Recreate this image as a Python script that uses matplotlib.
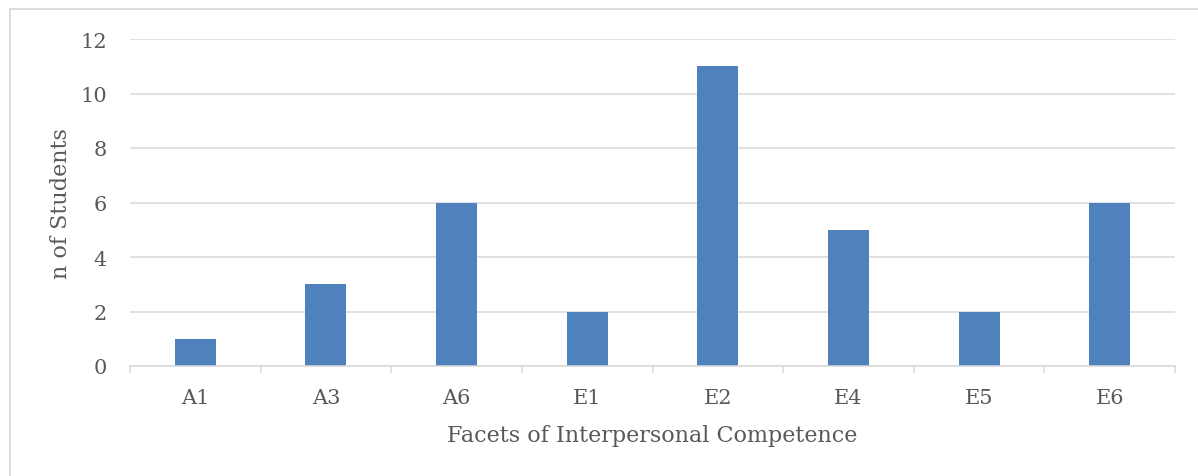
import matplotlib.pyplot as plt
import numpy as np
from matplotlib.lines import Line2D

facets = ["A1", "A3", "A6", "E1", "E2", "E4", "E5", "E6"]
n_students = [1, 3, 6, 2, 11, 5, 2, 6]
y_ticks = [0, 2, 4, 6, 8, 10, 12]

text_color = "#595959"
grid_color = "#d9d9d9"
bar_color = "#4f81bd"

plt.rcParams["font.family"] = ["DejaVu Serif"]

W, H = 1198, 477
fig = plt.figure(figsize=(W / 100, H / 100), dpi=100)
ax = fig.add_axes([130 / W, 1 - 367 / H, (1175 - 130) / W, (367 - 40) / H])

x = np.arange(len(facets))
ax.bar(x, n_students, width=0.313, color=bar_color, zorder=3)

ax.set_xlim(-0.5, len(facets) - 0.5)
ax.set_ylim(0, 12)
ax.set_yticks(y_ticks)
ax.set_xticks(x)
ax.set_xticklabels(facets)
ax.set_xticks(np.arange(len(facets) + 1) - 0.5, minor=True)

ax.tick_params(axis="y", length=0, pad=16.5, labelsize=15, labelcolor=text_color)
ax.tick_params(axis="x", which="major", length=0, pad=16, labelsize=15, labelcolor=text_color)
ax.tick_params(axis="x", which="minor", length=5, width=1.1, color=grid_color)

ax.grid(axis="y", color=grid_color, linewidth=1.1, zorder=0)
for s in ["top", "right", "left"]:
    ax.spines[s].set_visible(False)
ax.spines["bottom"].set_color(grid_color)
ax.spines["bottom"].set_linewidth(1.1)
ax.spines["bottom"].set_zorder(4)

ax.set_ylabel("n of Students", fontsize=16, color=text_color, labelpad=6)
ax.set_xlabel("Facets of Interpersonal Competence", fontsize=16, color=text_color, labelpad=12)

# chart frame (cropped on right and bottom)
fig.add_artist(Line2D([9.5 / W, 9.5 / W], [0, 1 - 10 / H], transform=fig.transFigure,
                      color=grid_color, linewidth=1.3))
fig.add_artist(Line2D([9.5 / W, 1], [1 - 10 / H, 1 - 10 / H], transform=fig.transFigure,
                      color=grid_color, linewidth=1.3))

fig.savefig("out.png", dpi=100)
